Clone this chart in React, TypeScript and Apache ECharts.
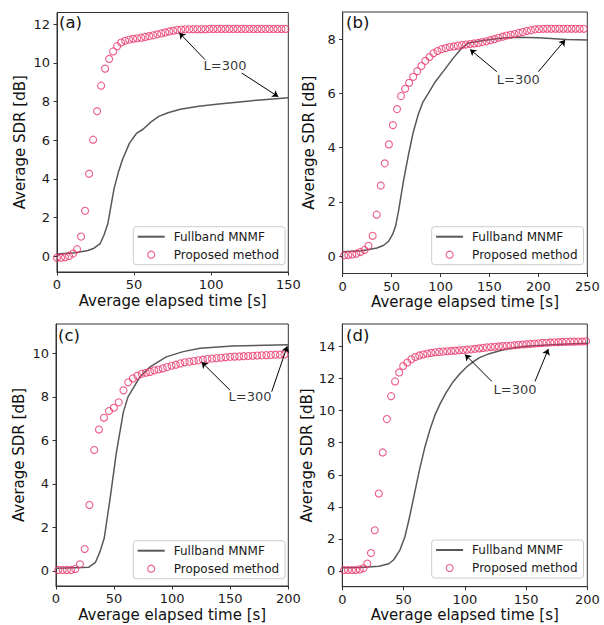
import React, { useEffect, useRef } from 'react';
import * as echarts from 'echarts';

const FONT = "'DejaVu Sans', 'Liberation Sans', sans-serif";
const AX = '#333333';
const LINE_C = '#585858';
const MARK_C = '#e8346a';

// ---------- (a) ----------
const aFullT = [0, 12, 20, 24, 28, 30.5, 33, 35, 37, 40, 42.5, 47, 51.5, 56, 61, 66, 72, 80, 92, 105, 115, 125, 136, 150];
const aFullSDR = [0.12, 0.19, 0.3, 0.42, 0.66, 1.1, 1.7, 2.6, 3.5, 4.4, 5.0, 5.85, 6.35, 6.58, 6.95, 7.23, 7.42, 7.6, 7.76, 7.87, 7.95, 8.03, 8.11, 8.2];
const aPropT = [0, 2.6, 5.2, 7.8, 10.4, 13, 15.6, 18.2, 20.8, 23.4, 26, 28.6, 31.2, 33.8, 36.4, 39, 41.6, 44.2, 46.8, 49.4, 52, 54.6, 57.2, 59.8, 62.4, 65, 67.6, 70.2, 72.8, 75.4, 78, 80.6, 83.2, 85.8, 88.4, 91, 93.6, 96.2, 98.8, 101.4, 104, 106.6, 109.2, 111.8, 114.4, 117, 119.6, 122.2, 124.8, 127.4, 130, 132.6, 135.2, 137.8, 140.4, 143, 145.6, 148.2];
const aPropSDR = [-0.07, -0.07, -0.05, 0.02, 0.14, 0.37, 1.02, 2.35, 4.27, 6.03, 7.5, 8.82, 9.7, 10.2, 10.59, 10.86, 11.05, 11.14, 11.2, 11.24, 11.27, 11.3, 11.34, 11.38, 11.42, 11.47, 11.52, 11.57, 11.62, 11.66, 11.7, 11.72, 11.73, 11.73, 11.74, 11.74, 11.74, 11.74, 11.75, 11.75, 11.75, 11.75, 11.75, 11.75, 11.75, 11.75, 11.75, 11.75, 11.75, 11.75, 11.75, 11.75, 11.75, 11.75, 11.75, 11.75, 11.75, 11.75];
const aXTicks = [0, 50, 100, 150];
const aYTicks = [0, 2, 4, 6, 8, 10, 12];
const aText = [109, 9.88];
const aArrows = [[[96, 10.16], [79.3, 11.55]], [[119.8, 9.47], [143.5, 8.25]]];

// ---------- (b) ----------
const bFullT = [0, 20, 35, 42, 47, 51, 54, 57, 62, 67, 72, 77, 82, 87.5, 94.5, 103, 113, 121.5, 128.5, 144, 161, 178, 200, 229, 250];
const bFullSDR = [0.16, 0.2, 0.3, 0.4, 0.55, 0.8, 1.1, 1.65, 2.75, 3.7, 4.55, 5.2, 5.68, 6.0, 6.42, 6.82, 7.3, 7.66, 7.86, 7.95, 8.03, 8.07, 8.05, 7.99, 7.97];
const bPropT = [1.5, 5.7, 9.8, 14.0, 18.1, 22.3, 26.4, 30.6, 34.7, 38.9, 43.0, 47.2, 51.3, 55.5, 59.6, 63.8, 67.9, 72.1, 76.2, 80.4, 84.5, 88.7, 92.8, 97.0, 101.1, 105.3, 109.4, 113.6, 117.7, 121.9, 126.0, 130.2, 134.3, 138.5, 142.6, 146.8, 150.9, 155.1, 159.2, 163.4, 167.5, 171.7, 175.8, 180.0, 184.1, 188.3, 192.4, 196.6, 200.7, 204.9, 209.0, 213.2, 217.3, 221.5, 225.6, 229.8, 233.9, 238.1, 242.2, 246.4];
const bPropSDR = [0.03, 0.04, 0.06, 0.09, 0.15, 0.23, 0.38, 0.75, 1.53, 2.6, 3.42, 4.12, 4.83, 5.42, 5.9, 6.17, 6.39, 6.61, 6.82, 7.01, 7.2, 7.34, 7.48, 7.56, 7.63, 7.67, 7.71, 7.73, 7.76, 7.78, 7.8, 7.82, 7.84, 7.86, 7.89, 7.92, 7.96, 8.0, 8.05, 8.09, 8.13, 8.16, 8.19, 8.23, 8.26, 8.3, 8.33, 8.36, 8.37, 8.38, 8.38, 8.38, 8.38, 8.38, 8.38, 8.38, 8.38, 8.38, 8.38, 8.38];
const bXTicks = [0, 50, 100, 150, 200, 250];
const bYTicks = [0, 2, 4, 6, 8];
const bText = [179.5, 6.5];
const bArrows = [[[157.5, 6.8], [130.2, 7.62]], [[200, 6.8], [227.3, 7.97]]];

// ---------- (c) ----------
const cFullT = [0, 16, 28, 34, 38, 41.5, 46.5, 52, 58, 62, 66.5, 72, 81, 95, 109.5, 124, 152, 200];
const cFullSDR = [0.12, 0.15, 0.17, 0.4, 0.9, 1.5, 3.3, 5.45, 7.3, 8.0, 8.4, 8.9, 9.38, 9.84, 10.08, 10.24, 10.34, 10.4];
const cPropT = [2.0, 5.7, 9.4, 13.0, 16.6, 20.6, 24.7, 28.8, 32.9, 37.0, 41.3, 45.6, 49.8, 54.0, 58.1, 62.2, 66.2, 70.1, 73.8, 77.4, 81.0, 84.6, 88.2, 91.9, 95.7, 99.5, 103.2, 107.0, 110.9, 114.8, 118.7, 122.6, 126.5, 130.4, 134.3, 138.2, 142.1, 146.0, 149.9, 153.8, 157.7, 161.6, 165.5, 169.4, 173.3, 177.2, 181.1, 185.0, 188.9, 192.8, 196.7];
const cPropSDR = [0.05, 0.05, 0.05, 0.05, 0.09, 0.31, 1.01, 3.03, 5.56, 6.5, 7.04, 7.35, 7.5, 7.75, 8.3, 8.67, 8.85, 8.97, 9.06, 9.11, 9.15, 9.22, 9.26, 9.31, 9.37, 9.43, 9.48, 9.54, 9.59, 9.62, 9.65, 9.68, 9.71, 9.74, 9.76, 9.78, 9.8, 9.82, 9.84, 9.85, 9.86, 9.87, 9.88, 9.89, 9.9, 9.91, 9.92, 9.93, 9.94, 9.94, 9.95];
const cXTicks = [0, 50, 100, 150, 200];
const cYTicks = [0, 2, 4, 6, 8, 10];
const cText = [167, 8.0];
const cArrows = [[[149.8, 8.31], [125.4, 9.6]], [[185.7, 8.24], [199.1, 10.33]]];

// ---------- (d) ----------
const dFullT = [0, 15, 30, 38, 42, 47, 51, 55, 59, 63, 67.5, 71.5, 75.5, 80, 85, 90, 96, 101.5, 107, 112, 120, 130, 140, 150, 175, 200];
const dFullSDR = [0.2, 0.22, 0.3, 0.45, 0.7, 1.3, 2.1, 3.4, 4.85, 6.3, 7.75, 8.8, 9.7, 10.45, 11.15, 11.75, 12.3, 12.72, 13.05, 13.3, 13.55, 13.76, 13.92, 14.02, 14.12, 14.2];
const dPropT = [1.4, 4.6, 7.9, 11.1, 14.3, 17.3, 20.4, 23.4, 26.5, 29.8, 33.0, 36.4, 39.8, 43.1, 46.4, 49.7, 53.0, 56.3, 59.6, 62.8, 66.1, 69.3, 72.6, 75.9, 79.1, 82.4, 85.6, 88.9, 92.1, 95.4, 98.6, 101.8, 105.1, 108.3, 111.6, 114.8, 118.0, 121.3, 124.5, 127.8, 131.0, 134.2, 137.5, 140.7, 144.0, 147.2, 150.4, 153.7, 156.9, 160.2, 163.4, 166.6, 169.9, 173.1, 176.4, 179.6, 182.8, 186.1, 189.3, 192.6, 195.8, 199.0];
const dPropSDR = [0.06, 0.06, 0.06, 0.06, 0.1, 0.17, 0.46, 1.12, 2.54, 4.83, 7.39, 9.47, 10.9, 11.82, 12.38, 12.78, 13.0, 13.2, 13.34, 13.44, 13.5, 13.56, 13.6, 13.64, 13.66, 13.68, 13.7, 13.72, 13.74, 13.76, 13.78, 13.8, 13.82, 13.85, 13.88, 13.91, 13.94, 13.96, 13.98, 14.0, 14.02, 14.04, 14.06, 14.08, 14.1, 14.12, 14.14, 14.16, 14.18, 14.2, 14.22, 14.23, 14.25, 14.26, 14.27, 14.28, 14.29, 14.3, 14.3, 14.31, 14.31, 14.32];
const dXTicks = [0, 50, 100, 150, 200];
const dYTicks = [0, 2, 4, 6, 8, 10, 12, 14];
const dText = [141, 11.3];
const dArrows = [[[122, 11.82], [100.2, 13.5]], [[157.3, 11.82], [168.2, 13.84]]];

const zip = (xs: number[], ys: number[]) => xs.slice(0, Math.min(xs.length, ys.length)).map((x, i) => [x, ys[i]]);

const panels = [
  { label: '(a)', fullT: aFullT, fullY: aFullSDR, propT: aPropT, propY: aPropSDR, xMax: 150, xTicks: aXTicks, yMin: -0.81, yMax: 12.6, yTicks: aYTicks, text: aText, arrows: aArrows,
    grid: { left: 57, top: 12.5, width: 231.3, height: 259.5 }, legendPos: { left: 133.3, top: 226.7 }, yGap: 30, titlePos: { left: 59, top: 13.5 } },
  { label: '(b)', fullT: bFullT, fullY: bFullSDR, propT: bPropT, propY: bPropSDR, xMax: 250, xTicks: bXTicks, yMin: -0.64, yMax: 9.0, yTicks: bYTicks, text: bText, arrows: bArrows,
    grid: { left: 342.7, top: 12, width: 244.6, height: 261.5 }, legendPos: { left: 431.7, top: 226.7 }, yGap: 26, titlePos: { left: 346, top: 13.5 } },
  { label: '(c)', fullT: cFullT, fullY: cFullSDR, propT: cPropT, propY: cPropSDR, xMax: 200, xTicks: cXTicks, yMin: -0.69, yMax: 11.35, yTicks: cYTicks, text: cText, arrows: cArrows,
    grid: { left: 56, top: 324, width: 232.3, height: 262 }, legendPos: { left: 133.3, top: 540.7 }, yGap: 30, titlePos: { left: 58, top: 326.5 } },
  { label: '(d)', fullT: dFullT, fullY: dFullSDR, propT: dPropT, propY: dPropSDR, xMax: 200, xTicks: dXTicks, yMin: -0.98, yMax: 15.4, yTicks: dYTicks, text: dText, arrows: dArrows,
    grid: { left: 342.3, top: 324, width: 245, height: 262.7 }, legendPos: { left: 431.7, top: 540 }, yGap: 26, titlePos: { left: 346, top: 326.5 } },
];

function buildOption(): any {
  const tickLabel = { fontSize: 13, color: '#1a1a1a', fontFamily: FONT };
  const nameStyle = { fontSize: 15, color: '#111', fontFamily: FONT };
  return {
    animation: false,
    backgroundColor: '#ffffff',
    title: panels.map((p) => ({
      text: p.label, left: p.titlePos.left, top: p.titlePos.top, padding: 0,
      textStyle: { fontSize: 16.5, fontWeight: 'normal', color: '#111', fontFamily: FONT },
    })),
    grid: panels.map((p) => ({
      ...p.grid, show: true, borderColor: AX, borderWidth: 1, backgroundColor: 'transparent',
      containLabel: false, outerBoundsMode: 'none',
    })),
    xAxis: panels.map((p, i) => ({
      gridIndex: i, type: 'value', min: 0, max: p.xMax,
      axisLine: { show: true, onZero: false, lineStyle: { color: AX, width: 1 } },
      splitLine: { show: false },
      axisTick: { show: true, inside: false, length: 3.5, lineStyle: { color: AX, width: 1 }, customValues: p.xTicks },
      axisLabel: { ...tickLabel, margin: 6, customValues: p.xTicks },
      name: 'Average elapsed time [s]', nameLocation: 'middle', nameGap: 21, nameTextStyle: nameStyle,
    })),
    yAxis: panels.map((p, i) => ({
      gridIndex: i, type: 'value', min: p.yMin, max: p.yMax,
      axisLine: { show: true, onZero: false, lineStyle: { color: AX, width: 1 } },
      splitLine: { show: false },
      axisTick: { show: true, inside: false, length: 3.5, lineStyle: { color: AX, width: 1 }, customValues: p.yTicks },
      axisLabel: { ...tickLabel, margin: 7, customValues: p.yTicks },
      name: 'Average SDR [dB]', nameLocation: 'middle', nameRotate: 90, nameGap: p.yGap, nameTextStyle: nameStyle,
    })),
    legend: panels.map((p) => ({
      left: p.legendPos.left, top: p.legendPos.top, orient: 'vertical', selectedMode: false,
      data: [
        { name: 'Fullband MNMF', itemStyle: { color: 'rgba(0,0,0,0)', borderColor: 'rgba(0,0,0,0)', borderWidth: 0, opacity: 0 } },
        { name: 'Proposed method', icon: 'circle', itemStyle: { color: 'rgba(0,0,0,0)', borderColor: MARK_C, borderWidth: 1.1 } },
      ],
      itemWidth: 27, itemHeight: 7, itemGap: 4,
      textStyle: { fontSize: 12, color: '#1a1a1a', fontFamily: FONT, lineHeight: 14, padding: [0, 0, 0, 4] },
      borderColor: '#cccccc', borderWidth: 1, borderRadius: 3, padding: [3, 6, 3, 3.4],
      backgroundColor: 'rgba(255,255,255,0.8)',
    })),
    series: panels.flatMap((p, i) => [
      {
        type: 'line', name: 'Fullband MNMF', xAxisIndex: i, yAxisIndex: i,
        data: zip(p.fullT, p.fullY), showSymbol: false, symbol: 'none', smooth: false,
        lineStyle: { color: LINE_C, width: 1.5 }, itemStyle: { color: LINE_C }, z: 2, silent: true,
      },
      {
        type: 'scatter', name: 'Proposed method', xAxisIndex: i, yAxisIndex: i,
        data: zip(p.propT, p.propY), symbol: 'circle', symbolSize: 7,
        itemStyle: { color: 'rgba(0,0,0,0)', borderColor: MARK_C, borderWidth: 1.1 }, z: 3, silent: true,
      },
      {
        type: 'scatter', name: 'annotation' + i, xAxisIndex: i, yAxisIndex: i,
        data: [p.text], symbolSize: 0, silent: true, z: 4,
        label: { show: true, position: 'inside', formatter: 'L=300', fontSize: 13, color: '#000', fontFamily: FONT },
        markLine: {
          silent: true, symbol: ['none', 'arrow'], symbolSize: 6,
          lineStyle: { color: '#000', width: 1, type: 'solid', opacity: 1 },
          label: { show: false }, emphasis: { disabled: true },
          data: p.arrows.map(([s, e]) => [{ coord: s }, { coord: e }]),
        },
      },
    ]),
  };
}

export default function App() {
  const ref = useRef<HTMLDivElement>(null);
  useEffect(() => {
    if (!ref.current) return;
    const chart = echarts.init(ref.current, null, { renderer: 'svg' });
    chart.setOption(buildOption());
    return () => chart.dispose();
  }, []);
  return <div ref={ref} style={{ position: 'absolute', left: 0, top: 0, width: 604, height: 625 }} />;
}
